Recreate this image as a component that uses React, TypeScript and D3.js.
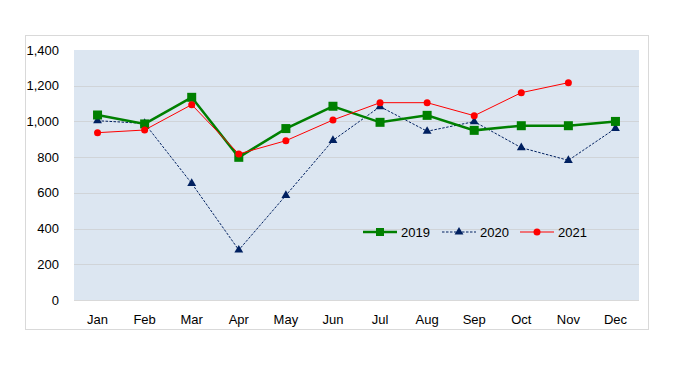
import React from "react";
import * as d3 from "d3";

const months = ["Jan", "Feb", "Mar", "Apr", "May", "Jun", "Jul", "Aug", "Sep", "Oct", "Nov", "Dec"];
const yTicks = [0, 200, 400, 600, 800, 1000, 1200, 1400];
const s2019 = [1036, 986, 1135, 799, 960, 1085, 995, 1034, 950, 976, 976, 1000];
const s2020 = [1004, 989, 653, 280, 586, 894, 1083, 945, 999, 853, 782, 961];
const s2021 = [937, 952, 1094, 818, 892, 1008, 1105, 1105, 1032, 1161, 1217];

const W = 693, H = 382;
const plot = { left: 74, top: 50, right: 639, bottom: 300 };
const font = "'Liberation Sans', Arial, sans-serif";

export default function App() {
  const x = d3.scaleBand<string>().domain(months).range([plot.left, plot.right]);
  const y = d3.scaleLinear().domain([0, 1400]).range([plot.bottom, plot.top]);
  const cx = (i: number) => (x(months[i]) as number) + x.bandwidth() / 2;
  const line = d3.line<number>().x((_, i) => cx(i)).y((d) => y(d));
  const tri = d3.symbol().type(d3.symbolTriangle).size(34)() as string;

  const legendY = 232;
  const legend = [
    { x: 363, label: "2019" },
    { x: 442, label: "2020" },
    { x: 520, label: "2021" },
  ];

  return (
    <svg width={W} height={H} style={{ position: "absolute", left: 0, top: 0 }}>
      <rect x={0} y={0} width={W} height={H} fill="#fff" />
      <rect x={25.5} y={35.5} width={623} height={294} fill="#fff" stroke="#d9d9d9" />
      <rect x={plot.left} y={plot.top} width={plot.right - plot.left} height={plot.bottom - plot.top} fill="#dce6f1" />
      {yTicks.map((t) => (
        <g key={t}>
          {t > 0 && t < 1400 && (
            <line x1={plot.left} x2={plot.right} y1={Math.round(y(t)) + 0.5} y2={Math.round(y(t)) + 0.5} stroke="#d0d4d8" />
          )}
          <text x={59} y={y(t)} dy="0.35em" textAnchor="end" fontFamily={font} fontSize={13} fill="#000">
            {d3.format(",")(t)}
          </text>
        </g>
      ))}
      <line x1={plot.left} x2={plot.right} y1={plot.bottom + 0.5} y2={plot.bottom + 0.5} stroke="#d9d9d9" />
      {months.map((m, i) => (
        <text key={m} x={cx(i)} y={324} textAnchor="middle" fontFamily={font} fontSize={13} fill="#000">
          {m}
        </text>
      ))}

      {/* 2020 */}
      <path d={line(s2020) as string} fill="none" stroke="#002060" strokeWidth={1} strokeDasharray="2.5,1.5" />
      {s2020.map((v, i) => (
        <path key={i} d={tri} transform={`translate(${cx(i)},${y(v)})`} fill="#002060" />
      ))}
      {/* 2019 */}
      <path d={line(s2019) as string} fill="none" stroke="#008000" strokeWidth={2.5} />
      {s2019.map((v, i) => (
        <rect key={i} x={cx(i) - 4.5} y={y(v) - 4.5} width={9} height={9} fill="#008000" />
      ))}
      {/* 2021 */}
      <path d={line(s2021) as string} fill="none" stroke="#ff0000" strokeWidth={1} />
      {s2021.map((v, i) => (
        <circle key={i} cx={cx(i)} cy={y(v)} r={3.5} fill="#ff0000" />
      ))}

      {/* legend */}
      <line x1={legend[0].x} x2={legend[0].x + 34} y1={legendY} y2={legendY} stroke="#008000" strokeWidth={2.5} />
      <rect x={legend[0].x + 17 - 4} y={legendY - 4} width={8} height={8} fill="#008000" />
      <line x1={legend[1].x} x2={legend[1].x + 34} y1={legendY} y2={legendY} stroke="#002060" strokeWidth={1} strokeDasharray="2.5,1.5" />
      <path d={tri} transform={`translate(${legend[1].x + 17},${legendY})`} fill="#002060" />
      <line x1={legend[2].x} x2={legend[2].x + 34} y1={legendY} y2={legendY} stroke="#ff0000" strokeWidth={1} />
      <circle cx={legend[2].x + 17} cy={legendY} r={3.5} fill="#ff0000" />
      {legend.map((l) => (
        <text key={l.label} x={l.x + 38} y={legendY} dy="0.35em" fontFamily={font} fontSize={13} fill="#000">
          {l.label}
        </text>
      ))}
    </svg>
  );
}
